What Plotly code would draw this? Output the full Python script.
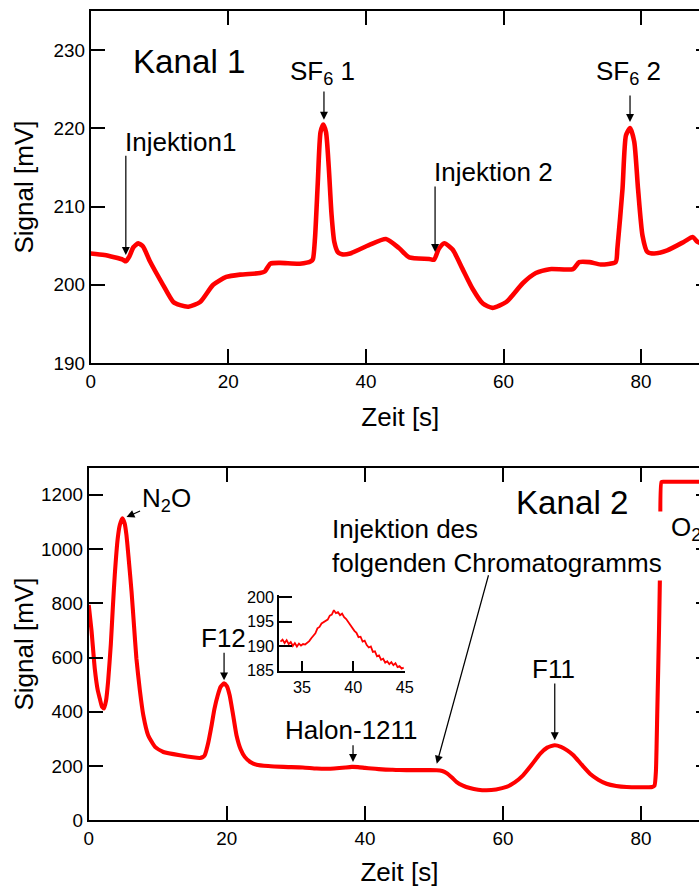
import plotly.graph_objects as go

# ---------------- data ----------------
# Kanal 1 (top panel)
k1_t = [0, 2, 4.7, 5.1, 5.6, 6.2, 6.9, 7.6, 8.6, 10.5, 12.0, 13.0, 14.2, 15.9, 17.8, 19.7,
        21.7, 24.6, 25.3, 26.1, 27.5, 30.4, 32.0, 32.3, 32.6, 33.0, 33.4, 33.8, 34.2, 34.6,
        35.0, 35.4, 35.9, 36.5, 37.7, 40.5, 42.9, 44.8, 46.3, 49.2, 49.9, 50.6, 51.4, 52.6,
        54.0, 55.5, 57.0, 58.4, 60.4, 62.8, 64.7, 66.7, 70.1, 71.0, 72.5, 74.1, 76.3, 76.55,
        77.3, 77.8, 78.4, 79.0, 79.55, 80.2, 80.9, 81.9, 83.8, 86.25, 87.5, 88.2, 90]
k1_sig = [204.0, 203.8, 203.2, 203.0, 203.6, 204.8, 205.3, 204.9, 203.0, 200.0, 197.8, 197.4,
          197.2, 197.8, 200.0, 201.0, 201.3, 201.5, 201.7, 202.7, 202.8, 202.7, 203.0, 203.3,
          206.0, 213.0, 219.5, 220.5, 219.5, 215.0, 209.0, 205.5, 204.2, 203.9, 204.0, 205.1,
          205.85, 204.7, 203.5, 203.3, 203.2, 204.6, 205.3, 204.5, 202.1, 199.5, 197.6, 197.05,
          197.8, 200.2, 201.5, 202.0, 202.0, 202.9, 202.9, 202.6, 202.9, 204.6, 212.3, 219.1,
          220.05, 218.3, 212.3, 206.3, 204.2, 204.0, 204.4, 205.5, 206.1, 205.5, 204.8]

# Kanal 2 (bottom panel)
k2_t = [0, 0.4, 0.87, 1.3, 1.6, 1.9, 2.2, 2.5, 2.8, 3.2, 3.5, 3.77, 4.2, 4.5, 4.88, 5.2, 5.46,
        5.8, 6.2, 6.55, 6.9, 7.4, 7.9, 8.6, 9.6, 10.8, 13.2, 16.1, 16.5, 16.8, 17.3, 17.8, 18.2,
        18.7, 19.1, 19.6, 20.0, 20.4, 20.9, 21.4, 22.0, 22.6, 23.4, 24.3, 26.0, 28.2, 31.0,
        33.0, 35.0, 36.3, 37.2, 38.1, 39.0, 40.0, 41.0, 42.0, 43.0, 44.0, 45.0, 47.0, 50.4,
        51.2, 51.9, 52.6, 53.3, 54.2, 55.2, 56.4, 57.6, 59.0, 60.5, 61.7, 62.9, 64.1, 65.4,
        66.4, 67.5, 68.4, 69.3, 70.2, 71.4, 72.6, 73.8, 75.0, 76.4, 77.9, 80.0, 81.6, 81.95,
        82.15, 82.35, 82.6, 82.8, 82.95, 83.3, 90]
k2_sig = [794, 700, 560, 480, 449, 420, 412, 440, 511, 650, 790, 905, 1040, 1089, 1114, 1095,
          1052, 960, 843, 720, 597, 480, 388, 314, 271, 252, 240, 230, 233, 240, 285, 351, 410,
          462, 492, 505, 495, 462, 390, 314, 262, 234, 215, 205, 200, 197, 195, 191, 190.3,
          192.6, 195, 197, 196.3, 193.5, 191, 188.8, 187, 186.3, 185.5, 185, 185, 182, 173,
          158, 141, 128, 119, 113, 111, 114, 123, 140, 166, 203, 246, 268, 277, 271, 258, 240,
          205, 172, 150, 135, 127, 123, 122, 123, 128, 180, 400, 700, 1000, 1247, 1248, 1248]

# Inset (Halon-1211 detail)
ins_t = [32.9, 33.1, 33.3, 33.5, 33.7, 33.9, 34.1, 34.3, 34.5, 34.7, 34.9, 35.1, 35.3, 35.5,
         35.7, 35.9, 36.1, 36.3, 36.5, 36.7, 36.9, 37.1, 37.3, 37.5, 37.7, 37.9, 38.1, 38.3,
         38.5, 38.7, 38.9, 39.1, 39.3, 39.5, 39.7, 39.9, 40.1, 40.3, 40.5, 40.7, 40.9, 41.1,
         41.3, 41.5, 41.7, 41.9, 42.1, 42.3, 42.5, 42.7, 42.9, 43.1, 43.3, 43.5, 43.7, 43.9,
         44.1, 44.3, 44.5, 44.7, 44.9]
ins_sig = [190.9, 191.3, 190.6, 191.2, 190.4, 190.8, 190.0, 190.6, 189.9, 190.5, 190.1, 190.4,
           190.3, 190.6, 191.0, 191.6, 192.2, 192.6, 193.6, 193.9, 194.6, 194.9, 195.2, 195.4,
           196.2, 196.4, 197.3, 196.7, 196.9, 196.3, 196.6, 195.9, 195.5, 194.9, 194.2, 193.8,
           193.1, 192.7, 191.8, 191.9, 190.9, 191.1, 190.2, 189.7, 189.9, 188.8, 188.9, 187.9,
           188.1, 187.2, 187.4, 186.6, 186.9, 186.3, 186.7, 186.1, 186.5, 185.7, 185.9, 185.4,
           185.6]

top_xticks = [0, 20, 40, 60, 80]
top_yticks = [190, 200, 210, 220, 230]
bot_yticks = [0, 200, 400, 600, 800, 1000, 1200]
ins_xticks = [35, 40, 45]
ins_yticks = [185, 190, 195, 200]

# ---------------- figure geometry ----------------
# The page is photographed slightly reduced (about 0.98) and offset (about 5 px);
# layout positions are given in target-picture pixels and converted here.
S, O = 0.98, 5.0
W, H = 720, 902
FONT = "Liberation Sans, Arial, Helvetica, sans-serif"
RED = "#ff0000"


def fpx(r):
    return (r - O) / S


def dx(r):
    return fpx(r) / W


def dy(r):
    return 1 - fpx(r) / H


def fs(v):
    return v / S


fig = go.Figure()
fig.add_trace(go.Scatter(x=k1_t, y=k1_sig, mode="lines",
                         line=dict(color=RED, width=fs(4.5), shape="spline", smoothing=0.6),
                         xaxis="x", yaxis="y", showlegend=False))
fig.add_trace(go.Scatter(x=k2_t, y=k2_sig, mode="lines",
                         line=dict(color=RED, width=fs(4), shape="spline", smoothing=0.5),
                         xaxis="x2", yaxis="y2", showlegend=False))
fig.add_trace(go.Scatter(x=ins_t, y=ins_sig, mode="lines", line=dict(color=RED, width=1.8),
                         xaxis="x3", yaxis="y3", showlegend=False))

axis_common = dict(showline=True, linecolor="black", linewidth=2, ticks="inside",
                   ticklen=fs(14), tickwidth=2, tickcolor="black", mirror="ticks",
                   showgrid=False, zeroline=False,
                   tickfont=dict(family=FONT, size=fs(18.5), color="black"))
title_font = dict(family=FONT, size=fs(25.5), color="black")
inset_common = dict(showline=True, linecolor="black", linewidth=2, ticks="inside",
                    tickwidth=2, tickcolor="black", showgrid=False, zeroline=False,
                    tickfont=dict(family=FONT, size=fs(16), color="black"))

layout = dict(
    width=W, height=H, margin=dict(l=0, r=0, t=0, b=0),
    paper_bgcolor="white", plot_bgcolor="white", showlegend=False,
    font=dict(family=FONT, color="black"),
    xaxis=dict(axis_common, domain=[dx(90.7), dx(709.5)], range=[0, 90],
               tickvals=top_xticks, anchor="y",
               title=dict(text="Zeit [s]", font=title_font, standoff=17)),
    yaxis=dict(axis_common, domain=[dy(361), dy(9)], range=[190, 235],
               tickvals=top_yticks, anchor="x",
               title=dict(text="Signal [mV]", font=title_font, standoff=12)),
    xaxis2=dict(axis_common, domain=[dx(88.7), dx(709.7)], range=[0, 90],
                tickvals=top_xticks, anchor="y2",
                title=dict(text="Zeit [s]", font=title_font, standoff=15)),
    yaxis2=dict(axis_common, domain=[dy(818.3), dy(465.7)], range=[0, 1300],
                tickvals=bot_yticks, anchor="x2",
                title=dict(text="Signal [mV]", font=title_font, standoff=0)),
    xaxis3=dict(inset_common, ticklen=fs(10), domain=[dx(279.3), dx(405)],
                range=[32.8, 45.05], tickvals=ins_xticks, anchor="y3"),
    yaxis3=dict(inset_common, ticklen=fs(12), domain=[dy(669), dy(593)],
                range=[184.9, 200.4], tickvals=ins_yticks, anchor="x3"),
)
fig.update_layout(**layout)

LBL = dict(family=FONT, size=fs(25.5), color="black")
BIG = dict(family=FONT, size=fs(32.5), color="black")


def label(text, x, y, xr, yr, font=LBL, xanchor="center", align="center"):
    fig.add_annotation(text=text, x=x, y=y, xref=xr, yref=yr, showarrow=False, font=font,
                       bgcolor="white", xanchor=xanchor, yanchor="middle", align=align,
                       borderpad=2)


def arrow(x0, y0, x1, y1, xr, yr):
    fig.add_annotation(text="", x=x1, y=y1, ax=x0, ay=y0, xref=xr, yref=yr, axref=xr, ayref=yr,
                       showarrow=True, arrowhead=2, arrowsize=1.3, arrowwidth=fs(1.2),
                       arrowcolor="black", standoff=0, startstandoff=0)


# top panel labels
label("Kanal 1", 14.27, 228.5, "x", "y", font=BIG)
label("Injektion1", 13.1, 218.25, "x", "y")
arrow(5.1, 216.7, 5.1, 203.8, "x", "y")
label("SF<sub>6</sub> 1", 33.64, 227.2, "x", "y")
arrow(33.9, 224.9, 33.9, 221.1, "x", "y")
label("Injektion 2", 58.54, 214.4, "x", "y")
arrow(50.05, 212.76, 50.05, 204.2, "x", "y")
label("SF<sub>6</sub> 2", 78.2, 227.1, "x", "y")
arrow(78.39, 224.4, 78.39, 220.8, "x", "y")

# bottom panel labels (the two-line note first, so "Kanal 2" is drawn over its box)
label("Injektion des<br>folgenden Chromatogramms", 59.15, 1011.3, "x2", "y2", align="left")
arrow(57.96, 909.2, 50.41, 208.7, "x2", "y2")
label("Kanal 2", 69.97, 1173.5, "x2", "y2", font=BIG)
label("N<sub>2</sub>O", 11.25, 1184.6, "x2", "y2")
arrow(7.65, 1143, 5.47, 1118, "x2", "y2")
label("O<sub>2</sub>", 83.9, 1077.7, "x2", "y2", xanchor="left")
label("F12", 19.45, 672, "x2", "y2")
arrow(19.6, 623, 19.6, 516, "x2", "y2")
label("Halon-1211", 38.1, 333, "x2", "y2")
arrow(38.28, 282.4, 38.28, 215, "x2", "y2")
label("F11", 67.35, 557.8, "x2", "y2")
arrow(67.5, 510, 67.5, 295, "x2", "y2")

fig.write_html("out.html", config={"displayModeBar": False}, post_script=(
    "document.body.style.margin='0';"
    "document.body.style.overflow='hidden';"
    "document.documentElement.style.overflow='hidden';"))
